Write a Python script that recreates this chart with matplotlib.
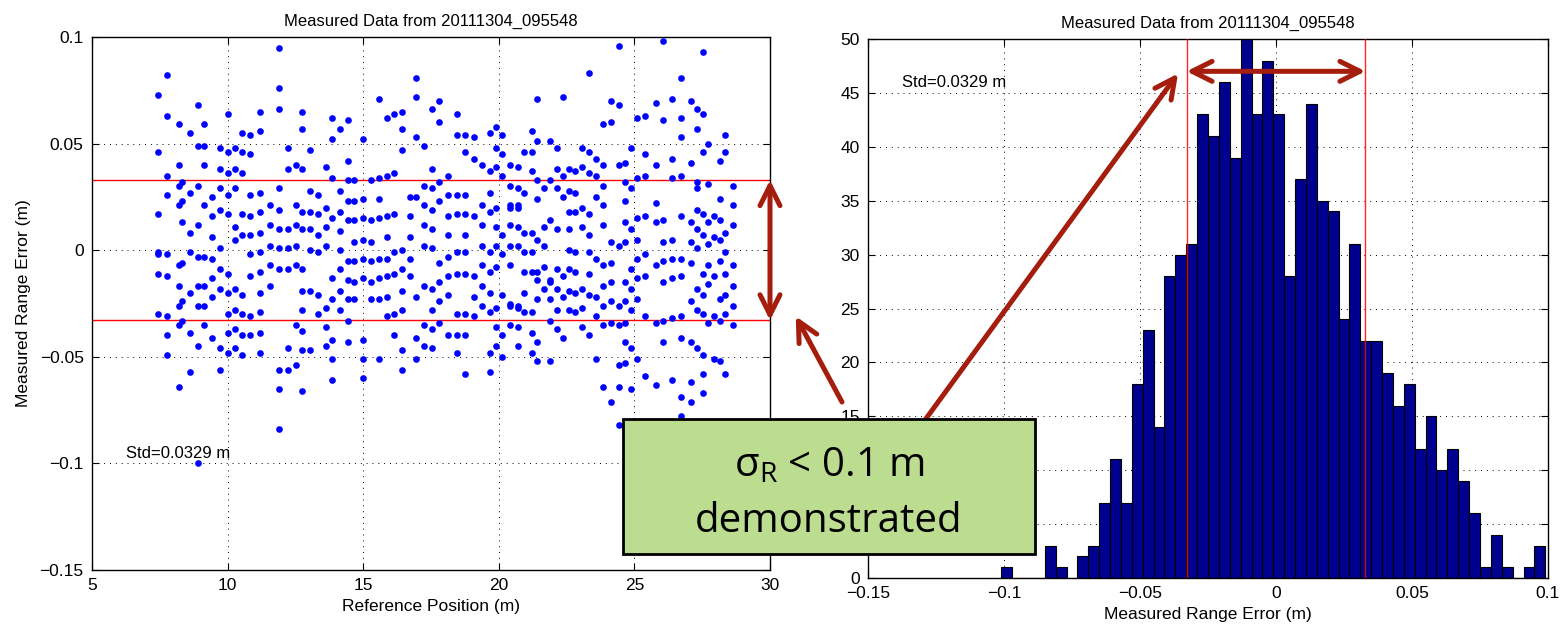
import numpy as np
import matplotlib
matplotlib.use('Agg')
import matplotlib.pyplot as plt
from matplotlib.patches import Rectangle, ConnectionPatch

# ---- data ----
std_m = 0.0329
plot_title = 'Measured Data from 20111304_095548'

# scan positions (m) and the range errors (m) measured at each one
scan_pos = [7.43, 7.76, 8.22, 8.33, 8.63, 8.91, 9.14, 9.42, 9.72, 10.01,
            10.29, 10.53, 10.81, 11.21, 11.56, 11.90, 12.24, 12.52, 12.76, 13.05,
            13.35, 13.63, 13.86, 14.13, 14.44, 14.66, 15.00, 15.29, 15.58, 15.87,
            16.15, 16.43, 16.73, 16.96, 17.24, 17.54, 17.81, 18.11, 18.46, 18.74,
            19.08, 19.38, 19.66, 19.89, 20.11, 20.40, 20.70, 20.92, 21.21, 21.40,
            21.68, 21.90, 22.13, 22.35, 22.59, 22.82, 23.05, 23.33, 23.57, 23.85,
            24.13, 24.42, 24.66, 24.89, 25.11, 25.40, 25.81, 26.04, 26.38, 26.73,
            27.07, 27.30, 27.54, 27.71, 27.94, 28.17, 28.35, 28.64]

range_err = [
    [0.073, 0.046, 0.017, -0.001, -0.002, -0.011, -0.030],
    [0.082, 0.063, 0.035, 0.026, -0.002, -0.012, -0.031, -0.040, -0.049],
    [0.059, 0.040, 0.030, 0.021, -0.007, -0.017, -0.026, -0.035, -0.064],
    [0.032, 0.023, 0.013, -0.006, -0.024, -0.033],
    [0.055, 0.027, 0.008, -0.001, -0.020, -0.039, -0.057],
    [0.068, 0.049, 0.030, 0.012, -0.003, -0.017, -0.026, -0.045, -0.100],
    [0.059, 0.049, 0.040, 0.021, -0.003, -0.017, -0.026, -0.035],
    [0.025, 0.016, 0.006, -0.004, -0.013, -0.022, -0.041],
    [0.048, 0.038, 0.029, 0.019, 0.001, -0.009, -0.018, -0.046, -0.056],
    [0.064, 0.046, 0.036, 0.026, 0.017, -0.011, -0.020, -0.030, -0.039, -0.048],
    [0.048, 0.038, 0.029, 0.011, 0.005, -0.018, -0.028, -0.037, -0.046],
    [0.055, 0.046, 0.036, 0.017, 0.007, -0.021, -0.030, -0.040, -0.049],
    [0.054, 0.045, 0.026, 0.016, 0.007, -0.002, -0.012, -0.031, -0.040],
    [0.065, 0.056, 0.027, 0.018, 0.008, -0.001, -0.010, -0.020, -0.029, -0.039, -0.048],
    [0.021, 0.012, 0.002, -0.007, -0.017],
    [0.095, 0.076, 0.066, 0.029, 0.019, 0.010, 0.001, -0.009, -0.056, -0.065, -0.084],
    [0.048, 0.038, 0.010, 0.001, -0.009, -0.046, -0.056],
    [0.040, 0.021, 0.012, 0.002, -0.007, -0.035, -0.054],
    [0.065, 0.057, 0.038, 0.018, 0.010, -0.009, -0.019, -0.028, -0.038, -0.047, -0.066],
    [0.047, 0.028, 0.018, 0.010, 0.000, -0.019, -0.047],
    [0.026, 0.017, 0.007, -0.001, -0.021, -0.030],
    [0.039, 0.020, 0.011, 0.002, -0.027, -0.036, -0.045],
    [0.062, 0.052, 0.034, 0.015, -0.013, -0.023, -0.042, -0.051, -0.061],
    [0.057, 0.028, 0.018, 0.009, 0.000, -0.009, -0.019, -0.028],
    [0.061, 0.042, 0.033, 0.023, 0.014, -0.005, -0.014, -0.023, -0.033, -0.043],
    [0.033, 0.023, 0.014, 0.004, -0.005, -0.015, -0.023],
    [0.052, 0.024, 0.015, 0.005, -0.004, -0.013, -0.042, -0.051, -0.060],
    [0.033, 0.014, 0.004, -0.005, -0.015, -0.023],
    [0.071, 0.034, 0.024, 0.015, -0.004, -0.013, -0.023, -0.051],
    [0.062, 0.035, 0.016, 0.006, -0.004, -0.012, -0.022, -0.031],
    [0.064, 0.036, 0.017, -0.001, -0.011, -0.030, -0.040],
    [0.065, 0.057, 0.047, 0.000, -0.009, -0.019, -0.028, -0.047, -0.056],
    [0.025, 0.016, 0.006, -0.004, -0.012],
    [0.081, 0.072, 0.053, 0.025, -0.022, -0.041, -0.051],
    [0.049, 0.030, 0.021, 0.012, 0.002, -0.017, -0.035, -0.045],
    [0.066, 0.038, 0.029, 0.019, 0.010, 0.001, -0.018, -0.028, -0.037, -0.046],
    [0.070, 0.060, 0.032, 0.023, -0.006, -0.015, -0.024, -0.034],
    [0.035, 0.026, 0.016, 0.007, -0.003, -0.012, -0.021, -0.040],
    [0.064, 0.054, 0.026, 0.017, -0.001, -0.011, -0.030, -0.040, -0.048],
    [0.054, 0.046, 0.026, 0.017, 0.007, -0.001, -0.011, -0.030, -0.040, -0.058],
    [0.053, 0.043, 0.016, -0.012, -0.022, -0.031],
    [0.040, 0.021, 0.012, 0.002, -0.007, -0.017, -0.026],
    [0.055, 0.037, 0.027, 0.018, -0.001, -0.010, -0.020, -0.029, -0.048, -0.057],
    [0.058, 0.048, 0.039, 0.020, 0.011, 0.002, -0.008, -0.027, -0.036, -0.045],
    [0.054, 0.045, 0.035, 0.007, -0.002, -0.021, -0.040, -0.050],
    [0.040, 0.030, 0.021, 0.020, 0.012, 0.002, -0.007, -0.025, -0.026, -0.035],
    [0.039, 0.029, 0.021, 0.020, 0.011, 0.002, -0.026, -0.027, -0.036, -0.045],
    [0.046, 0.027, 0.008, -0.001, -0.010, -0.020, -0.029],
    [0.056, 0.046, 0.037, 0.008, -0.001, -0.010, -0.029, -0.039, -0.048],
    [0.071, 0.051, 0.033, 0.024, 0.005, -0.010, -0.014, -0.023, -0.043, -0.052],
    [0.029, 0.011, 0.002, -0.008, -0.018],
    [0.051, 0.033, 0.014, -0.014, -0.015, -0.023, -0.033, -0.052],
    [0.048, 0.038, 0.029, 0.010, -0.009, -0.018, -0.028, -0.037],
    [0.072, 0.035, 0.025, -0.012, -0.022, -0.041],
    [0.038, 0.028, 0.018, 0.010, 0.000, -0.009, -0.019, -0.028],
    [0.037, 0.027, 0.018, -0.001, -0.010, -0.020, -0.029],
    [0.048, 0.039, 0.020, 0.011, -0.018, -0.027, -0.036],
    [0.083, 0.046, 0.036, 0.017, 0.007, -0.001, -0.011, -0.021, -0.040],
    [0.043, 0.035, 0.025, -0.004, -0.022, -0.031, -0.051],
    [0.059, 0.040, 0.030, 0.021, 0.012, -0.007, -0.017, -0.026, -0.035, -0.064],
    [0.070, 0.060, 0.004, -0.006, -0.015, -0.024, -0.034, -0.071],
    [0.096, 0.068, 0.040, 0.002, -0.026, -0.035, -0.054, -0.064, -0.082],
    [0.041, 0.032, 0.023, 0.013, 0.004, -0.015, -0.024, -0.034, -0.043, -0.053],
    [0.048, 0.029, 0.010, -0.009, -0.018, -0.028, -0.046, -0.065],
    [0.062, 0.034, 0.015, 0.005, -0.004, -0.013, -0.023, -0.051],
    [0.063, 0.045, 0.035, 0.016, -0.002, -0.012, -0.031, -0.059],
    [0.069, 0.040, 0.022, 0.013, -0.007, -0.034, -0.063],
    [0.098, 0.061, 0.014, 0.004, -0.005, -0.015, -0.033, -0.043],
    [0.071, 0.043, 0.034, 0.005, -0.004, -0.013, -0.032, -0.061],
    [0.081, 0.062, 0.053, 0.035, 0.016, -0.004, -0.012, -0.031, -0.041, -0.069, -0.078],
    [0.070, 0.041, 0.013, 0.004, -0.006, -0.024, -0.043, -0.062, -0.071],
    [0.066, 0.057, 0.032, 0.029, 0.019, 0.010, 0.001, -0.018, -0.028, -0.046],
    [0.093, 0.064, 0.046, 0.017, 0.007, -0.011, -0.021, -0.030, -0.049, -0.058, -0.067],
    [0.050, 0.031, 0.013, 0.003, -0.007, -0.016, -0.034],
    [0.016, 0.006, -0.012, -0.031, -0.051],
    [0.042, 0.024, 0.014, 0.005, -0.005, -0.023, -0.033, -0.052],
    [0.054, 0.046, 0.008, -0.001, -0.011, -0.021, -0.030, -0.058],
    [0.030, 0.021, 0.012, -0.007, -0.017, -0.026, -0.035],
]

# histogram of the same errors: 50 bins between the min and max error
hist_lo, hist_hi = -0.101, 0.099
hist_counts = [1, 0, 0, 0, 3, 1, 0, 2, 3, 7,
               11, 7, 18, 23, 14, 28, 30, 31, 43, 41,
               46, 39, 50, 43, 48, 43, 28, 37, 44, 35,
               34, 24, 31, 22, 22, 19, 16, 18, 12, 15,
               10, 12, 9, 6, 1, 4, 1, 0, 1, 3]

pos_ticks = [5, 10, 15, 20, 25, 30]
err_ticks = [-0.15, -0.1, -0.05, 0, 0.05, 0.1]
err_labels = ['\u22120.15', '\u22120.1', '\u22120.05', '0', '0.05', '0.1']
count_ticks = [0, 5, 10, 15, 20, 25, 30, 35, 40, 45, 50]

# ---- style ----
plt.rcParams['font.family'] = ['Liberation Sans', 'DejaVu Sans']
plt.rcParams['mathtext.fontset'] = 'custom'
plt.rcParams['mathtext.rm'] = 'Open Sans'
plt.rcParams['mathtext.it'] = 'Open Sans:italic'

W, H = 1566, 629
fig = plt.figure(figsize=(W / 100, H / 100), dpi=100)


def frac(px, py):
    # pixel (from top-left) -> figure fraction
    return (px / W, 1 - py / H)


def matlab_look(ax):
    ax.tick_params(direction='in', top=True, right=True, length=5, width=0.8,
                   labelsize=12.5, pad=6)
    ax.grid(True, color='k', ls=(0, (1, 5)), lw=0.7)
    ax.set_axisbelow(True)
    for s in ax.spines.values():
        s.set_linewidth(1.0)


# left: scatter of error vs position
ax1 = fig.add_axes([92 / W, 1 - 570 / H, 678 / W, 533 / H])
xs = np.repeat(scan_pos, [len(c) for c in range_err])
ys = np.concatenate(range_err)
ax1.plot(xs, ys, 'o', color='#0000FF', ms=4.8, mec='none', zorder=3)
ax1.axhline(std_m, color='red', lw=1, zorder=2)
ax1.axhline(-std_m, color='red', lw=1, zorder=2)
ax1.set_xlim(5, 30)
ax1.set_ylim(-0.15, 0.1)
ax1.set_xticks(pos_ticks)
ax1.set_yticks(err_ticks)
ax1.set_yticklabels(err_labels)
matlab_look(ax1)
ax1.set_title(plot_title, fontsize=12, pad=8)
ax1.set_xlabel('Reference Position (m)', fontsize=12.5, labelpad=4)
ax1.set_ylabel('Measured Range Error (m)', fontsize=12.5, labelpad=6)
ax1.text(6.25, -0.0955, 'Std=%.4f m' % std_m, fontsize=12, va='center')

# right: histogram
ax2 = fig.add_axes([868 / W, 1 - 578 / H, 680 / W, 539 / H])
edges = np.linspace(hist_lo, hist_hi, len(hist_counts) + 1)
centers = 0.5 * (edges[:-1] + edges[1:])
ax2.hist(centers, bins=edges, weights=hist_counts, color='#00008F',
         edgecolor='black', lw=0.8, zorder=2)
ax2.axvline(std_m, color='red', lw=1, alpha=0.85, zorder=3)
ax2.axvline(-std_m, color='red', lw=1, alpha=0.85, zorder=3)
ax2.set_xlim(-0.15, 0.1)
ax2.set_ylim(0, 50)
ax2.set_xticks(err_ticks)
ax2.set_xticklabels(err_labels)
ax2.set_yticks(count_ticks)
matlab_look(ax2)
ax2.set_title(plot_title, fontsize=12, pad=8)
ax2.set_xlabel('Measured Range Error (m)', fontsize=12.5, labelpad=4)
ax2.text(-0.1375, 46, 'Std=%.4f m' % std_m, fontsize=12, va='center')

# ---- slide annotations ----
red = '#A51D0D'
arrow_kw = dict(color=red, lw=3.6, mutation_scale=12, shrinkA=0, shrinkB=0,
                capstyle='round', zorder=5)

# +/- std span on both plots
fig.add_artist(ConnectionPatch(xyA=(30, std_m), xyB=(30, -std_m),
                               coordsA=ax1.transData, coordsB=ax1.transData,
                               arrowstyle='<->,head_length=1.2,head_width=0.6',
                               **arrow_kw))
fig.add_artist(ConnectionPatch(xyA=(-std_m, 47), xyB=(std_m, 47),
                               coordsA=ax2.transData, coordsB=ax2.transData,
                               arrowstyle='<->,head_length=1.2,head_width=0.6',
                               **arrow_kw))
# pointers from the call-out box
fig.add_artist(ConnectionPatch(xyA=frac(842, 402), xyB=(30.95, -0.031),
                               coordsA=fig.transFigure, coordsB=ax1.transData,
                               arrowstyle='->,head_length=1.2,head_width=0.6',
                               **arrow_kw))
fig.add_artist(ConnectionPatch(xyA=frac(925, 420), xyB=(-0.036, 46.8),
                               coordsA=fig.transFigure, coordsB=ax2.transData,
                               arrowstyle='->,head_length=1.2,head_width=0.6',
                               **arrow_kw))

# call-out box
bx0, by0 = frac(623, 554)
bx1, by1 = frac(1035, 419)
fig.add_artist(Rectangle((bx0, by0), bx1 - bx0, by1 - by0, transform=fig.transFigure,
                         facecolor='#BCDC90', edgecolor='black', lw=2, zorder=6))
cx = (bx0 + bx1) / 2
fig.text(cx, frac(0, 476)[1], r'$\mathrm{\sigma}_\mathrm{R}$ < 0.1 m', ha='center',
         va='baseline', fontsize=29, family='Open Sans', zorder=7)
fig.text(cx, frac(0, 532)[1], 'demonstrated', ha='center', va='baseline',
         fontsize=29, family='Open Sans', zorder=7)

fig.savefig('out.png', dpi=100, facecolor='white')
